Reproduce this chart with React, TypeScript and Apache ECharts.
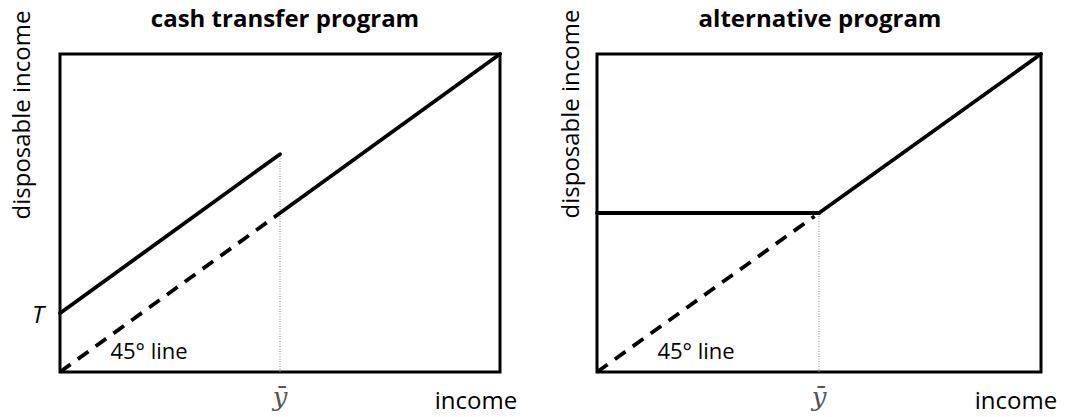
import React, { useEffect, useRef } from "react";
import * as echarts from "echarts";

// ---- data (unit square: income on x, disposable income on y) ----
const X_BAR = 0.5; // threshold income ȳ
const T_VALUE = 0.185; // cash transfer T
const cashUpper: number[][] = [[0, 0.185], [0.5, 0.685]];
const cashLower: number[][] = [[0.5, 0.5], [1, 1]];
const cashFortyFive: number[][] = [[0, 0], [0.5, 0.5]];
const cashThreshold: number[][] = [[0.5, 0], [0.5, 0.685]];
const altFlat: number[][] = [[0, 0.5], [0.5, 0.5]];
const altRising: number[][] = [[0.5, 0.5], [1, 1]];
const altFortyFive: number[][] = [[0, 0], [0.49, 0.49]];
const altThreshold: number[][] = [[0.5, 0], [0.5, 0.5]];
const titles = ["cash transfer program", "alternative program"];
const xName = "income";
const yName = "disposable income";
const lineLabel = "45° line";
const xTickLabel = "ȳ";
const yTickLabel = "T";

const FONT = "Open Sans";

export default function App() {
  const ref = useRef<HTMLDivElement>(null);
  useEffect(() => {
    document.body.style.margin = "0";
    if (!ref.current) return;
    const chart = echarts.init(ref.current, null, { renderer: "svg" });

    const solid = (data: number[][], grid: number) => ({
      type: "line",
      xAxisIndex: grid,
      yAxisIndex: grid,
      data,
      symbol: "none",
      silent: true,
      lineStyle: { color: "#000", width: 3.8, cap: "round" },
    });
    const dashed = (data: number[][], grid: number) => ({
      type: "line",
      xAxisIndex: grid,
      yAxisIndex: grid,
      data,
      symbol: "none",
      silent: true,
      lineStyle: { color: "#000", width: 3.8, type: [13, 9] },
    });
    const dotted = (data: number[][], grid: number) => ({
      type: "line",
      xAxisIndex: grid,
      yAxisIndex: grid,
      data,
      symbol: "none",
      silent: true,
      z: 1,
      lineStyle: { color: "#8a8a8a", width: 1, type: [1, 1.5] },
    });

    const xAxis = (i: number) => ({
      type: "value",
      gridIndex: i,
      min: 0,
      max: 1,
      axisLine: { show: false },
      axisTick: { show: false },
      splitLine: { show: false },
      axisLabel: {
        customValues: [X_BAR],
        formatter: () => xTickLabel,
        margin: 12,
        fontFamily: "DejaVu Serif",
        fontStyle: "italic",
        fontSize: 26,
        color: "#555",
      },
    });
    const yAxis = (i: number, showT: boolean) => ({
      type: "value",
      gridIndex: i,
      min: 0,
      max: 1,
      axisLine: { show: false },
      axisTick: { show: false },
      splitLine: { show: false },
      axisLabel: showT
        ? {
            customValues: [T_VALUE],
            formatter: () => yTickLabel,
            margin: 16,
            fontFamily: FONT,
            fontStyle: "italic",
            fontSize: 24,
            color: "#000",
          }
        : { show: false },
    });

    const txt = { fontFamily: FONT, fontSize: 24, fill: "#000" };

    chart.setOption({
      animation: false,
      title: [
        {
          text: titles[0],
          left: 280,
          top: 0,
          textAlign: "center",
          textStyle: { fontFamily: FONT, fontWeight: "bold", fontSize: 24, color: "#000" },
        },
        {
          text: titles[1],
          left: 815,
          top: 0,
          textAlign: "center",
          textStyle: { fontFamily: FONT, fontWeight: "bold", fontSize: 24, color: "#000" },
        },
      ],
      grid: [
        { left: 60, top: 54, width: 440, height: 318, show: true, borderColor: "#000", borderWidth: 3, backgroundColor: "transparent" },
        { left: 597, top: 54, width: 444, height: 318, show: true, borderColor: "#000", borderWidth: 3, backgroundColor: "transparent" },
      ],
      xAxis: [xAxis(0), xAxis(1)],
      yAxis: [yAxis(0, true), yAxis(1, false)],
      series: [
        dotted(cashThreshold, 0),
        solid(cashUpper, 0),
        solid(cashLower, 0),
        dashed(cashFortyFive, 0),
        dotted(altThreshold, 1),
        solid(altFlat, 1),
        solid(altRising, 1),
        dashed(altFortyFive, 1),
      ],
      graphic: [
        { type: "text", x: 20, y: 115, rotation: Math.PI / 2, style: { ...txt, text: yName, align: "center", verticalAlign: "middle" } },
        { type: "text", x: 569, y: 114, rotation: Math.PI / 2, style: { ...txt, text: yName, align: "center", verticalAlign: "middle" } },
        { type: "text", x: 476, y: 399, style: { ...txt, text: xName, align: "center", verticalAlign: "middle" } },
        { type: "text", x: 1016, y: 399, style: { ...txt, text: xName, align: "center", verticalAlign: "middle" } },
        { type: "text", x: 149, y: 350, style: { ...txt, fontSize: 22, text: lineLabel, align: "center", verticalAlign: "middle" } },
        { type: "text", x: 696, y: 350, style: { ...txt, fontSize: 22, text: lineLabel, align: "center", verticalAlign: "middle" } },
      ],
    });
    return () => chart.dispose();
  }, []);
  return <div ref={ref} style={{ width: 1065, height: 417 }} />;
}
